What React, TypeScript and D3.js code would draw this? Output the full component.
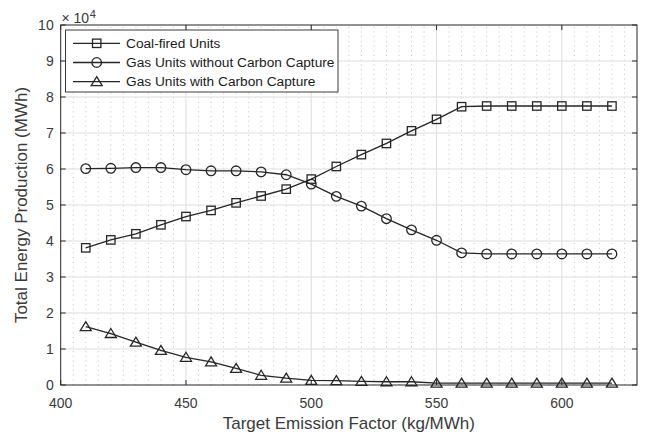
import React, { useEffect } from "react";
import * as d3 from "d3";

// emission factor targets (kg/MWh)
const targets = [410, 420, 430, 440, 450, 460, 470, 480, 490, 500, 510, 520, 530, 540, 550, 560, 570, 580, 590, 600, 610, 620];

// energy production, in units of 1e4 MWh
const coalUnits = [3.81, 4.03, 4.2, 4.45, 4.68, 4.85, 5.06, 5.25, 5.44, 5.72, 6.07, 6.4, 6.71, 7.06, 7.38, 7.73, 7.75, 7.75, 7.75, 7.75, 7.75, 7.75];
const gasNoCapture = [6.01, 6.02, 6.04, 6.04, 5.98, 5.95, 5.95, 5.92, 5.84, 5.58, 5.24, 4.97, 4.62, 4.31, 4.02, 3.67, 3.64, 3.64, 3.64, 3.64, 3.64, 3.64];
const gasWithCapture = [1.62, 1.43, 1.19, 0.96, 0.77, 0.64, 0.46, 0.27, 0.19, 0.13, 0.12, 0.1, 0.09, 0.09, 0.05, 0.05, 0.05, 0.05, 0.05, 0.05, 0.05, 0.05];

const seriesNames = ["Coal-fired Units", "Gas Units without Carbon Capture", "Gas Units with Carbon Capture"];
const seriesMarkers = ["square", "circle", "triangle"];

const xTicks = [400, 450, 500, 550, 600];
const yTicks = [0, 1, 2, 3, 4, 5, 6, 7, 8, 9, 10];

const width = 648;
const height = 439;
const ink = "#262626";
const font = "'Liberation Sans', Arial, sans-serif";

const x = d3.scaleLinear().domain([400, 630]).range([60.7, 637]);
const y = d3.scaleLinear().domain([0, 10]).range([385, 25]);

const Marker = ({ kind, cx, cy }: { kind: string; cx: number; cy: number }) => {
  const style = { fill: "none", stroke: ink, strokeWidth: 1.3 };
  if (kind === "square") return <rect x={cx - 4.2} y={cy - 4.2} width={8.4} height={8.4} {...style} />;
  if (kind === "circle") return <circle cx={cx} cy={cy} r={4.8} {...style} />;
  return <path d={`M${cx},${cy - 5} L${cx + 5.5},${cy + 4} L${cx - 5.5},${cy + 4} Z`} {...style} />;
};

const App = () => {
  useEffect(() => {
    document.body.style.margin = "0";
  }, []);

  const series = [coalUnits, gasNoCapture, gasWithCapture];
  const line = d3.line<number>().x((_, i) => x(targets[i])).y((d) => y(d));
  const minorX = d3.range(405, 630, 5).filter((v) => v % 50 !== 0);
  const [x0, x1] = x.range();
  const [y0, y1] = y.range();

  return (
    <svg width={width} height={height} style={{ display: "block", background: "#fff", fontFamily: font }}>
      {/* minor grid */}
      <g stroke="#c4c4c4" strokeWidth={1} strokeDasharray="1,3.7">
        {minorX.map((v) => (
          <line key={v} x1={x(v)} x2={x(v)} y1={y0} y2={y1} />
        ))}
      </g>
      {/* major grid */}
      <g stroke="#dedede" strokeWidth={1}>
        {xTicks.slice(1).map((v) => (
          <line key={v} x1={x(v)} x2={x(v)} y1={y0} y2={y1} />
        ))}
        {yTicks.slice(1, -1).map((v) => (
          <line key={v} x1={x0} x2={x1} y1={y(v)} y2={y(v)} />
        ))}
      </g>

      {/* series */}
      {series.map((s, k) => (
        <g key={k}>
          <path d={line(s) || ""} fill="none" stroke={ink} strokeWidth={1.3} />
          {s.map((d, i) => (
            <Marker key={i} kind={seriesMarkers[k]} cx={x(targets[i])} cy={y(d)} />
          ))}
        </g>
      ))}

      {/* box and ticks */}
      <rect x={x0} y={y1} width={x1 - x0} height={y0 - y1} fill="none" stroke={ink} strokeWidth={1} />
      <g stroke={ink} strokeWidth={1}>
        {xTicks.map((v) => (
          <g key={v}>
            <line x1={x(v)} x2={x(v)} y1={y0} y2={y0 - 5} />
            <line x1={x(v)} x2={x(v)} y1={y1} y2={y1 + 5} />
          </g>
        ))}
        {yTicks.map((v) => (
          <g key={v}>
            <line x1={x0} x2={x0 + 5} y1={y(v)} y2={y(v)} />
            <line x1={x1} x2={x1 - 5} y1={y(v)} y2={y(v)} />
          </g>
        ))}
      </g>

      {/* tick labels */}
      <g fill="#3a3a3a" fontSize={14}>
        {xTicks.map((v) => (
          <text key={v} x={x(v)} y={y0 + 17.5} textAnchor="middle" dominantBaseline="central">
            {v}
          </text>
        ))}
        {yTicks.map((v) => (
          <text key={v} x={x0 - 7} y={y(v)} textAnchor="end" dominantBaseline="central">
            {v}
          </text>
        ))}
      </g>

      {/* exponent */}
      <text x={61.5} y={22.7} fill="#3a3a3a" fontSize={14}>
        {"\u00d7 10"}
        <tspan fontSize={11} dy={-4.5} dx={0.5}>4</tspan>
      </text>

      {/* axis titles */}
      <text x={(x0 + x1) / 2} y={423} textAnchor="middle" dominantBaseline="central" fontSize={17} fill="#3a3a3a">
        Target Emission Factor (kg/MWh)
      </text>
      <text
        transform={`translate(21,${(y0 + y1) / 2}) rotate(-90)`}
        textAnchor="middle"
        dominantBaseline="central"
        fontSize={17}
        fill="#3a3a3a"
      >
        Total Energy Production (MWh)
      </text>

      {/* legend */}
      <g>
        <rect x={65.5} y={30} width={272.5} height={62} fill="#fff" stroke={ink} strokeWidth={0.9} />
        {seriesNames.map((name, k) => {
          const ry = 43.3 + k * 19.2;
          return (
            <g key={name}>
              <line x1={73} x2={120} y1={ry} y2={ry} stroke={ink} strokeWidth={1.3} />
              <Marker kind={seriesMarkers[k]} cx={96.7} cy={ry} />
              <text x={126} y={ry} dominantBaseline="central" fontSize={13.7} fill="#1a1a1a">
                {name}
              </text>
            </g>
          );
        })}
      </g>
    </svg>
  );
};

export default App;
